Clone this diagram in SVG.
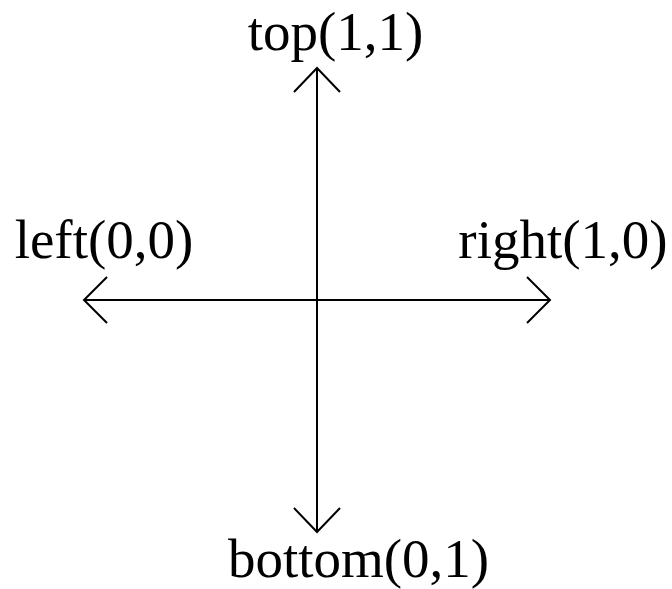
<svg xmlns="http://www.w3.org/2000/svg" width="672" height="589" viewBox="0 0 672 589">
<style>
.ln{stroke:#000;stroke-width:2;fill:none}
.lb{font-family:"Liberation Serif","Times New Roman",serif;font-size:55px;fill:#000;text-anchor:middle}
</style>
<rect width="672" height="589" fill="#fff"/>
<g id="connectors">
<line class="ln" x1="317" y1="68" x2="317" y2="532"/>
<line class="ln" x1="84" y1="300" x2="550" y2="300"/>
<polyline class="ln" points="294,92 317,68 340,92"/>
<polyline class="ln" points="294,508 317,532 340,508"/>
<polyline class="ln" points="107,277 84,300 107,323"/>
<polyline class="ln" points="527,277 550,300 527,323"/>
</g>
<g id="top"><text class="lb" x="335.5" y="50">top(1,1)</text></g>
<g id="left"><text class="lb" x="104" y="258">left(0,0)</text></g>
<g id="right"><text class="lb" x="563" y="258">right(1,0)</text></g>
<g id="bottom"><text class="lb" x="358.5" y="577">bottom(0,1)</text></g>
</svg>
